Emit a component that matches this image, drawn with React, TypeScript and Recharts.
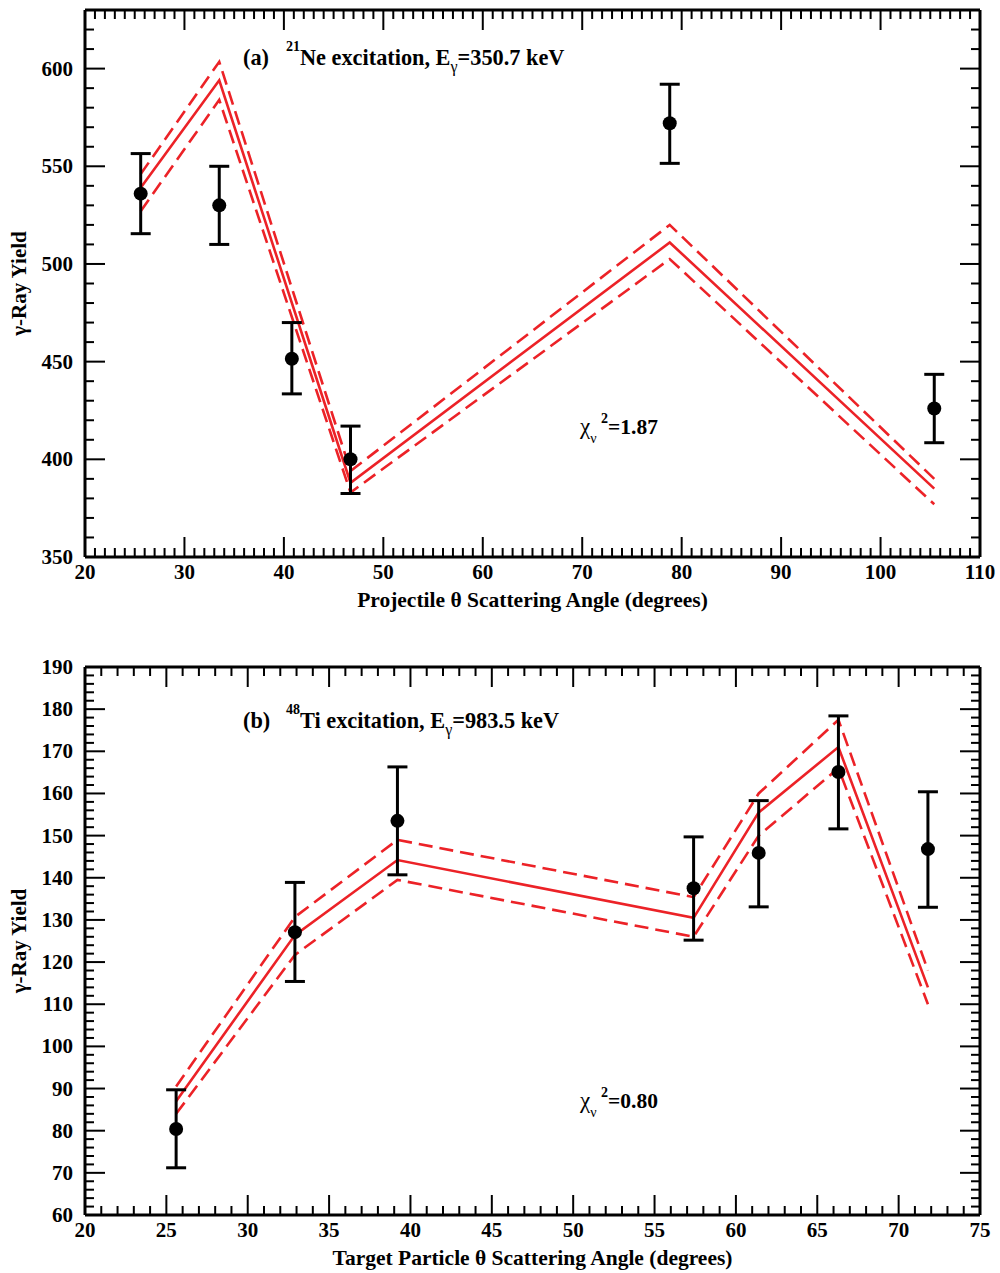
import React from 'react';
import { ComposedChart, Line, Scatter, ErrorBar, XAxis, YAxis } from 'recharts';

const RED = '#ec2227';
const FONT = '"Liberation Serif", "Times New Roman", serif';

// (a) 21Ne excitation
const neAngles = [25.6, 33.5, 40.8, 46.7, 78.8, 105.4];
const neYield = [536, 530, 451.5, 400, 572, 426];
const neErrLow = [20.5, 20, 18, 17.5, 20.5, 17.5];
const neErrHigh = [20.5, 20, 18.5, 17, 20, 17.5];
const neFitAngles = [25.6, 33.5, 46.7, 78.8, 105.4];
const neFit = [539, 594, 388, 511, 385];
const neFitUpper = [546, 603.5, 394, 520, 390];
const neFitLower = [527, 584, 383, 502.5, 377];
const neXTicks = Array.from({ length: 91 }, (_, i) => 20 + i);
const neYTicks = Array.from({ length: 29 }, (_, i) => 350 + i * 10);

// (b) 48Ti excitation
const tiAngles = [25.6, 32.9, 39.2, 57.4, 61.4, 66.3, 71.8];
const tiYield = [80.4, 127.1, 153.5, 137.5, 145.9, 165.1, 146.8];
const tiErrLow = [9.2, 11.7, 12.8, 12.3, 12.8, 13.5, 13.8];
const tiErrHigh = [9.3, 11.8, 12.8, 12.2, 12.4, 13.3, 13.6];
const tiFit = [87, 126.4, 144.2, 130.5, 155.5, 171, 114];
const tiFitUpper = [90.5, 130.7, 149, 135.4, 160, 177.5, 118];
const tiFitLower = [84, 121.7, 139.5, 126, 150, 166, 110];
const tiXTicks = Array.from({ length: 56 }, (_, i) => 20 + i);
const tiYTicks = Array.from({ length: 66 }, (_, i) => 60 + i * 2);

const toPoints = (xs: number[], ys: number[]) => xs.map((x, i) => ({ x, y: ys[i] }));
const toErrPoints = (xs: number[], ys: number[], lo: number[], hi: number[]) =>
  xs.map((x, i) => ({ x, y: ys[i], err: [lo[i], hi[i]] }));

const isMultiple = (v: number, step: number) => Math.abs(v / step - Math.round(v / step)) < 1e-6;

// ticks point inward; labels only on majors of bottom/left axes
const makeTick = (side: string, step: number, labels: boolean) => (props: any) => {
  const { x, y, payload } = props;
  const v = payload.value;
  const major = isMultiple(v, step);
  const len = major ? 20 : 9;
  let line = null;
  if (side === 'bottom') line = <line x1={x} y1={y} x2={x} y2={y - len} />;
  if (side === 'top') line = <line x1={x} y1={y} x2={x} y2={y + len} />;
  if (side === 'left') line = <line x1={x} y1={y} x2={x + len} y2={y} />;
  if (side === 'right') line = <line x1={x} y1={y} x2={x - len} y2={y} />;
  let label = null;
  if (labels && major) {
    label =
      side === 'bottom' ? (
        <text x={x} y={y + 22} textAnchor="middle" stroke="none" fill="#000">{v}</text>
      ) : (
        <text x={x - 12} y={y + 7} textAnchor="end" stroke="none" fill="#000">{v}</text>
      );
  }
  return (
    <g stroke="#000" strokeWidth={2} fontFamily={FONT} fontWeight="bold" fontSize={21}>
      {line}
      {label}
    </g>
  );
};

const xTitle = (text: string) => (props: any) => {
  const vb = props.viewBox || {};
  return (
    <text x={vb.x + vb.width / 2} y={vb.y + 50} textAnchor="middle" fontFamily={FONT} fontWeight="bold" fontSize={21.5} fill="#000">
      {text}
    </text>
  );
};

const yTitle = (text: string) => (props: any) => {
  const vb = props.viewBox || {};
  const cy = vb.y + vb.height / 2;
  return (
    <text x={26} y={cy} transform={`rotate(-90 26 ${cy})`} textAnchor="middle" fontFamily={FONT} fontWeight="bold" fontSize={21} fill="#000">
      {text}
    </text>
  );
};

const Dot = (p: any) => <circle cx={p.cx} cy={p.cy} r={7} fill="#000" />;

interface PanelProps {
  height: number;
  top: number;
  bottom: number;
  xDomain: [number, number];
  yDomain: [number, number];
  xTicks: number[];
  yTicks: number[];
  xStep: number;
  yStep: number;
  xLabel: string;
  points: { x: number; y: number; err: number[] }[];
  fit: { x: number; y: number }[];
  upper: { x: number; y: number }[];
  lower: { x: number; y: number }[];
}

const axisLine = { stroke: '#000', strokeWidth: 3 };

const Panel = (p: PanelProps) => (
  <ComposedChart width={1000} height={p.height}
    margin={{ top: p.top - 4, right: 16, bottom: p.bottom - 50, left: 5 }}>
    <XAxis xAxisId="b" type="number" dataKey="x" domain={p.xDomain} ticks={p.xTicks} interval={0} allowDataOverflow
      height={50} tickSize={0} tickMargin={0} tickLine={false} axisLine={axisLine}
      tick={makeTick('bottom', p.xStep, true)} label={{ content: xTitle(p.xLabel) }} />
    <XAxis xAxisId="t" orientation="top" type="number" dataKey="x" domain={p.xDomain} ticks={p.xTicks} interval={0} allowDataOverflow
      height={4} tickSize={0} tickMargin={0} tickLine={false} axisLine={axisLine}
      tick={makeTick('top', p.xStep, false)} />
    <YAxis yAxisId="l" type="number" domain={p.yDomain} ticks={p.yTicks} interval={0} allowDataOverflow
      width={80} tickSize={0} tickMargin={0} tickLine={false} axisLine={axisLine}
      tick={makeTick('left', p.yStep, true)} label={{ content: yTitle('γ-Ray Yield') }} />
    <YAxis yAxisId="r" orientation="right" type="number" domain={p.yDomain} ticks={p.yTicks} interval={0} allowDataOverflow
      width={4} tickSize={0} tickMargin={0} tickLine={false} axisLine={axisLine}
      tick={makeTick('right', p.yStep, false)} />
    <Line xAxisId="b" yAxisId="l" data={p.upper} dataKey="y" type="linear" stroke={RED} strokeWidth={2.6}
      strokeDasharray="14 7" dot={false} isAnimationActive={false} />
    <Line xAxisId="b" yAxisId="l" data={p.fit} dataKey="y" type="linear" stroke={RED} strokeWidth={2.6}
      dot={false} isAnimationActive={false} />
    <Line xAxisId="b" yAxisId="l" data={p.lower} dataKey="y" type="linear" stroke={RED} strokeWidth={2.6}
      strokeDasharray="14 7" dot={false} isAnimationActive={false} />
    <Scatter xAxisId="b" yAxisId="l" data={p.points} dataKey="y" shape={Dot} isAnimationActive={false}>
      <ErrorBar dataKey="err" direction="y" width={10} stroke="#000" strokeWidth={3} />
    </Scatter>
  </ComposedChart>
);

export default function App() {
  return (
    <div style={{ position: 'absolute', left: 0, top: 0, width: 1000, height: 1273, background: '#fff' }}>
      <Panel
        height={630}
        top={10}
        bottom={73}
        xDomain={[20, 110]}
        yDomain={[350, 630]}
        xTicks={neXTicks}
        yTicks={neYTicks}
        xStep={10}
        yStep={50}
        xLabel="Projectile θ Scattering Angle (degrees)"
        points={toErrPoints(neAngles, neYield, neErrLow, neErrHigh)}
        fit={toPoints(neFitAngles, neFit)}
        upper={toPoints(neFitAngles, neFitUpper)}
        lower={toPoints(neFitAngles, neFitLower)}
      />
      <Panel
        height={643}
        top={37}
        bottom={58}
        xDomain={[20, 75]}
        yDomain={[60, 190]}
        xTicks={tiXTicks}
        yTicks={tiYTicks}
        xStep={5}
        yStep={10}
        xLabel="Target Particle  θ Scattering Angle (degrees)"
        points={toErrPoints(tiAngles, tiYield, tiErrLow, tiErrHigh)}
        fit={toPoints(tiAngles, tiFit)}
        upper={toPoints(tiAngles, tiFitUpper)}
        lower={toPoints(tiAngles, tiFitLower)}
      />
      <svg width={1000} height={1273} style={{ position: 'absolute', left: 0, top: 0, pointerEvents: 'none' }}
        fontFamily={FONT} fill="#000">
        <text x={243} y={65} fontSize={22.3} fontWeight="bold">
          <tspan>(a)</tspan>
          <tspan x={286} dy={-14} fontSize={14}>21</tspan>
          <tspan dy={14}>Ne excitation, E</tspan>
          <tspan dy={7} fontSize={16} fontWeight="normal">γ</tspan>
          <tspan dy={-7}>=350.7 keV</tspan>
        </text>
        <text x={580} y={434} fontSize={23}>
          <tspan>χ</tspan>
          <tspan dy={9} fontSize={14}>ν</tspan>
          <tspan x={601} dy={-20} fontSize={14} fontWeight="bold">2</tspan>
          <tspan dy={11} fontSize={21.5} fontWeight="bold">=1.87</tspan>
        </text>
        <text x={243} y={728} fontSize={22.3} fontWeight="bold">
          <tspan>(b)</tspan>
          <tspan x={286} dy={-14} fontSize={14}>48</tspan>
          <tspan dy={14}>Ti excitation, E</tspan>
          <tspan dy={7} fontSize={16} fontWeight="normal">γ</tspan>
          <tspan dy={-7}>=983.5 keV</tspan>
        </text>
        <text x={580} y={1108} fontSize={23}>
          <tspan>χ</tspan>
          <tspan dy={9} fontSize={14}>ν</tspan>
          <tspan x={601} dy={-20} fontSize={14} fontWeight="bold">2</tspan>
          <tspan dy={11} fontSize={21.5} fontWeight="bold">=0.80</tspan>
        </text>
      </svg>
    </div>
  );
}
